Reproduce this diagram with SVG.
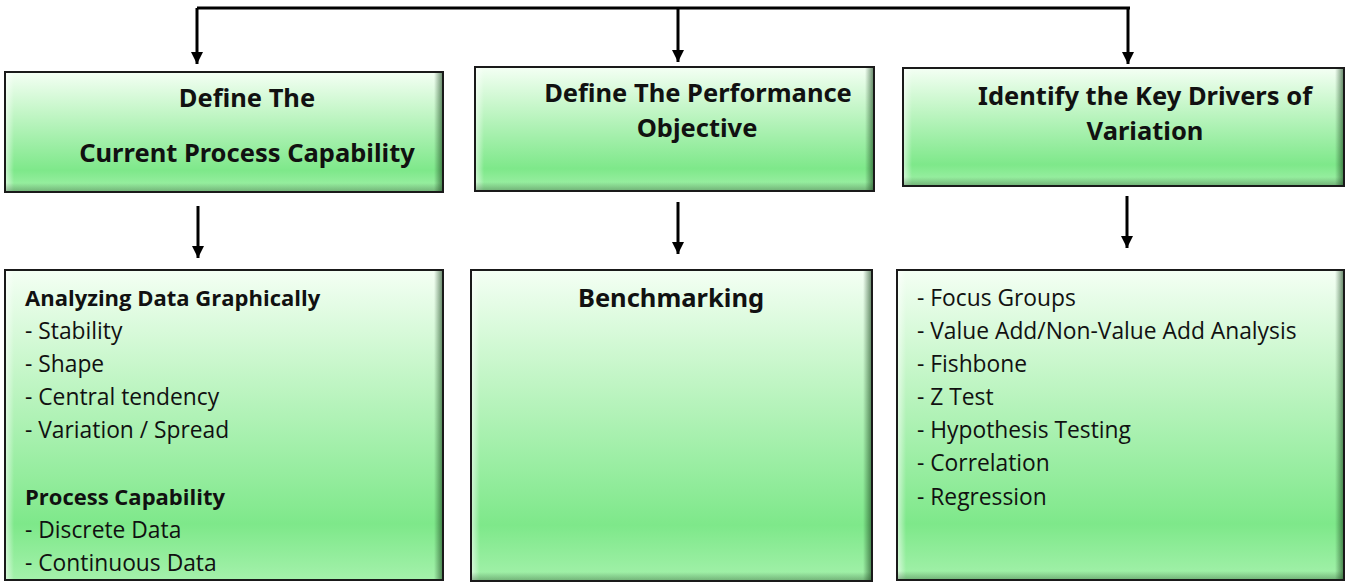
<svg xmlns="http://www.w3.org/2000/svg" width="1345" height="583" viewBox="0 0 1345 583">
  <defs>
    <linearGradient id="green" x1="0" y1="0" x2="0" y2="1">
      <stop offset="0" stop-color="#f4fff4"/>
      <stop offset="0.3" stop-color="#c9f7cc"/>
      <stop offset="0.82" stop-color="#7ee88a"/>
      <stop offset="1" stop-color="#a4f1ab"/>
    </linearGradient>
    <linearGradient id="bevelL" x1="0" y1="0" x2="1" y2="0">
      <stop offset="0" stop-color="#ffffff" stop-opacity="0.55"/>
      <stop offset="1" stop-color="#ffffff" stop-opacity="0"/>
    </linearGradient>
    <linearGradient id="bevelR" x1="1" y1="0" x2="0" y2="0">
      <stop offset="0" stop-color="#1e4a22" stop-opacity="0.6"/>
      <stop offset="1" stop-color="#1e4a22" stop-opacity="0"/>
    </linearGradient>
    <linearGradient id="bevelB" x1="0" y1="1" x2="0" y2="0">
      <stop offset="0" stop-color="#1e4a22" stop-opacity="0.35"/>
      <stop offset="1" stop-color="#1e4a22" stop-opacity="0"/>
    </linearGradient>
    <marker id="arrow" viewBox="0 0 10 10" refX="10" refY="5" markerWidth="4" markerHeight="4" orient="auto" markerUnits="strokeWidth">
      <path d="M0,0 L10,5 L0,10 Z" fill="#000"/>
    </marker>
  </defs>
  <style>
    .box { fill: url(#green); stroke: #1a1a1a; stroke-width: 2; }
    .head { font-family: "Noto Sans", "DejaVu Sans", sans-serif; font-weight: bold; font-size: 25.5px; fill: #111; }
    .body { font-family: "Open Sans", "Noto Sans", sans-serif; font-size: 22.8px; fill: #111; }
    .bold { font-weight: bold; font-size: 22px; }
    .conn { fill: none; stroke: #000; stroke-width: 3; }
  </style>

  <!-- connectors -->
  <g id="connectors">
    <path class="conn" d="M197,8 H1130"/>
    <path class="conn" d="M197,8 V64" marker-end="url(#arrow)"/>
    <path class="conn" d="M678,8 V62" marker-end="url(#arrow)"/>
    <path class="conn" d="M1128,8 V64" marker-end="url(#arrow)"/>
    <path class="conn" d="M198,206 V258" marker-end="url(#arrow)"/>
    <path class="conn" d="M678,202 V254" marker-end="url(#arrow)"/>
    <path class="conn" d="M1127,196 V248" marker-end="url(#arrow)"/>
  </g>

  <!-- top row -->
  <g id="node-current-capability">
    <rect class="box" x="5" y="72" width="438" height="120"/>
    <rect x="6" y="73" width="8" height="118" fill="url(#bevelL)"/>
    <rect x="434" y="73" width="8" height="118" fill="url(#bevelR)"/>
    <rect x="6" y="183" width="436" height="8" fill="url(#bevelB)"/>
    <text class="head" x="247" y="107" text-anchor="middle">Define The</text>
    <text class="head" x="247" y="162" text-anchor="middle">Current Process Capability</text>
  </g>

  <g id="node-performance-objective">
    <rect class="box" x="475" y="67" width="399" height="124"/>
    <rect x="476" y="68" width="8" height="122" fill="url(#bevelL)"/>
    <rect x="865" y="68" width="8" height="122" fill="url(#bevelR)"/>
    <rect x="476" y="182" width="397" height="8" fill="url(#bevelB)"/>
    <text class="head" x="698" y="102" text-anchor="middle">Define The Performance</text>
    <text class="head" x="697" y="137" text-anchor="middle">Objective</text>
  </g>

  <g id="node-key-drivers">
    <rect class="box" x="903" y="68" width="441" height="118"/>
    <rect x="904" y="69" width="8" height="116" fill="url(#bevelL)"/>
    <rect x="1335" y="69" width="8" height="116" fill="url(#bevelR)"/>
    <rect x="904" y="177" width="439" height="8" fill="url(#bevelB)"/>
    <text class="head" x="1145" y="105" text-anchor="middle">Identify the Key Drivers of</text>
    <text class="head" x="1145" y="140" text-anchor="middle">Variation</text>
  </g>

  <!-- bottom row -->
  <g id="node-analysis">
    <rect class="box" x="5" y="270" width="438" height="310"/>
    <rect x="6" y="271" width="8" height="308" fill="url(#bevelL)"/>
    <rect x="434" y="271" width="8" height="308" fill="url(#bevelR)"/>
    <text class="body bold" x="25" y="306">Analyzing Data Graphically</text>
    <text class="body" x="25" y="339">- Stability</text>
    <text class="body" x="25" y="372">- Shape</text>
    <text class="body" x="25" y="405">- Central tendency</text>
    <text class="body" x="25" y="438">- Variation / Spread</text>
    <text class="body bold" x="25" y="505">Process Capability</text>
    <text class="body" x="25" y="538">- Discrete Data</text>
    <text class="body" x="25" y="571">- Continuous Data</text>
  </g>

  <g id="node-benchmarking">
    <rect class="box" x="471" y="270" width="401" height="311"/>
    <rect x="472" y="271" width="8" height="309" fill="url(#bevelL)"/>
    <rect x="863" y="271" width="8" height="309" fill="url(#bevelR)"/>
    <rect x="472" y="572" width="399" height="8" fill="url(#bevelB)"/>
    <text class="head" x="671" y="307" text-anchor="middle">Benchmarking</text>
  </g>

  <g id="node-tools">
    <rect class="box" x="897" y="270" width="447" height="310"/>
    <rect x="898" y="271" width="8" height="308" fill="url(#bevelL)"/>
    <rect x="1335" y="271" width="8" height="308" fill="url(#bevelR)"/>
    <rect x="898" y="571" width="445" height="8" fill="url(#bevelB)"/>
    <text class="body" x="917" y="306">- Focus Groups</text>
    <text class="body" x="917" y="339">- Value Add/Non-Value Add Analysis</text>
    <text class="body" x="917" y="372">- Fishbone</text>
    <text class="body" x="917" y="405">- Z Test</text>
    <text class="body" x="917" y="438">- Hypothesis Testing</text>
    <text class="body" x="917" y="471">- Correlation</text>
    <text class="body" x="917" y="505">- Regression</text>
  </g>
</svg>
